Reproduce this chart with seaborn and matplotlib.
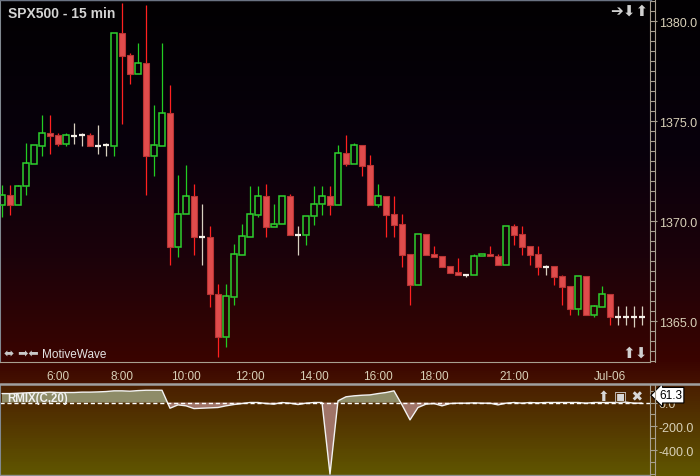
import numpy as np
import seaborn as sns
import matplotlib.pyplot as plt
from matplotlib.colors import LinearSegmentedColormap
from matplotlib.lines import Line2D

# ----------------------------------------
# DATA
# ----------------------------------------

opens = [1370.8, 1371.3, 1370.8, 1371.75, 1372.85, 1373.75, 1374.4, 1374.3, 1373.85, 1374.25,
         1374.3, 1374.3, 1373.75, 1373.8, 1373.75, 1379.4, 1378.3, 1377.35, 1377.9, 1373.25,
         1373.75, 1375.4, 1368.7, 1370.35, 1371.25, 1369.2, 1369.2, 1366.35, 1364.2, 1366.2,
         1368.3, 1369.2, 1370.3, 1371.25, 1369.7, 1369.85, 1371.25, 1369.3, 1369.3, 1370.25,
         1370.85, 1371.25, 1370.8, 1373.4, 1372.85, 1373.8, 1372.8, 1370.8, 1371.25, 1370.35,
         1369.85, 1368.35, 1366.8, 1369.35, 1368.35, 1368.25, 1367.75, 1367.45, 1367.3, 1367.3,
         1368.25, 1368.35, 1368.25, 1367.8, 1369.75, 1369.35, 1368.75, 1368.35, 1367.7, 1367.75,
         1367.25, 1366.75, 1365.6, 1367.25, 1365.3, 1365.7, 1366.35, 1365.2, 1365.2, 1365.2,
         1365.2]
highs = [1371.8, 1371.8, 1371.8, 1373.9, 1373.8, 1375.3, 1375.3, 1374.4, 1374.4, 1374.9,
         1374.4, 1374.4, 1374.8, 1373.9, 1379.4, 1380.9, 1378.4, 1378.9, 1380.8, 1375.8,
         1378.9, 1376.8, 1372.3, 1372.8, 1371.85, 1370.85, 1369.75, 1366.85, 1366.85, 1368.85,
         1369.85, 1371.75, 1371.75, 1371.85, 1370.85, 1371.25, 1371.35, 1369.75, 1370.25, 1371.75,
         1371.75, 1371.75, 1373.8, 1374.3, 1373.9, 1373.8, 1373.3, 1371.85, 1371.25, 1371.25,
         1370.35, 1368.35, 1369.35, 1369.35, 1368.75, 1368.25, 1367.75, 1368.15, 1367.3, 1368.35,
         1368.35, 1368.75, 1368.35, 1369.75, 1369.85, 1369.75, 1368.75, 1368.75, 1367.8, 1367.75,
         1367.3, 1366.75, 1367.25, 1367.25, 1365.8, 1366.75, 1366.35, 1365.75, 1365.75, 1365.75,
         1365.75]
lows = [1370.2, 1370.3, 1370.8, 1371.3, 1372.85, 1373.25, 1373.35, 1373.75, 1373.75, 1373.85,
        1373.75, 1373.75, 1373.35, 1373.25, 1373.25, 1374.85, 1376.85, 1377.35, 1371.3, 1372.25,
        1373.75, 1367.8, 1368.2, 1370.35, 1368.3, 1367.8, 1365.7, 1363.2, 1363.7, 1365.8,
        1368.3, 1369.2, 1370.2, 1369.2, 1369.7, 1369.85, 1369.3, 1368.3, 1368.8, 1369.8,
        1370.3, 1370.3, 1370.8, 1372.75, 1372.85, 1372.25, 1370.8, 1370.7, 1369.2, 1369.2,
        1367.7, 1365.8, 1366.8, 1368.3, 1368.2, 1367.7, 1367.4, 1367.3, 1367.2, 1367.3,
        1368.25, 1368.25, 1367.8, 1367.8, 1368.8, 1368.3, 1367.8, 1367.3, 1367.3, 1366.8,
        1365.8, 1365.3, 1365.3, 1365.3, 1365.2, 1365.7, 1364.8, 1364.8, 1364.8, 1364.7,
        1364.8]
closes = [1371.3, 1370.8, 1371.75, 1372.9, 1373.8, 1374.4, 1374.25, 1373.85, 1374.3, 1374.25,
          1374.3, 1373.75, 1373.75, 1373.8, 1379.4, 1378.25, 1377.35, 1377.9, 1373.25, 1373.8,
          1375.4, 1368.7, 1370.35, 1371.25, 1369.2, 1369.2, 1366.35, 1364.2, 1366.25, 1368.35,
          1369.25, 1370.35, 1371.25, 1369.7, 1369.85, 1371.25, 1369.3, 1369.3, 1370.25, 1370.85,
          1371.25, 1370.8, 1373.4, 1372.85, 1373.8, 1372.75, 1370.8, 1371.25, 1370.3, 1369.8,
          1368.3, 1366.8, 1369.35, 1368.3, 1368.2, 1367.7, 1367.4, 1367.3, 1367.3, 1368.25,
          1368.35, 1368.25, 1367.8, 1369.75, 1369.3, 1368.7, 1368.3, 1367.7, 1367.7, 1367.2,
          1366.7, 1365.6, 1367.25, 1365.3, 1365.75, 1366.35, 1365.2, 1365.2, 1365.2, 1365.2,
          1365.2]

rmix = [75, 75, 78, 81, 84, 84, 87, 84, 84, 84,
        87, 87, 89, 92, 98, 98, 95, 100, 103, 103,
        103, -48, -20, -28, -51, -48, -45, -42, -28, -17,
        -9, 0, 0, -9, -14, 0, -6, -17, -6, 0,
        0, -602, 14, 48, 56, 61, 64, 75, 84, 98,
        -20, -146, -42, -14, -9, -28, -9, -6, -6, -3,
        -6, -6, -20, -6, 0, -6, 0, -3, 0, 0,
        0, 0, 0, -6, 0, 0, 0, 0, 3, -6,
        -6]
rmix_last = 61.3

time_ticks = [7, 15, 23, 31, 39, 47, 54, 64, 76]
time_labels = ["6:00", "8:00", "10:00", "12:00", "14:00", "16:00", "18:00", "21:00", "Jul-06"]
price_ticks = [1365.0, 1370.0, 1375.0, 1380.0]
rmix_ticks = [0.0, -200.0, -400.0]

# ----------------------------------------
# STYLE
# ----------------------------------------

sns.set_style("dark")
plt.rcParams["font.family"] = ["Liberation Sans", "DejaVu Sans"]

W, H = 700, 477
AXIS_C = "#a8a090"
LABEL_C = "#d8d0b8"

fig = plt.figure(figsize=(W / 100, H / 100), dpi=100)


def px(x, y):
    # pixel coords (top-left origin) -> figure fraction
    return x / W, 1 - y / H


# background gradient over the whole window
bg_cmap = LinearSegmentedColormap.from_list("bg", [
    (0.0, "#020002"),
    (150 / H, "#08000c"),
    (260 / H, "#1c020a"),
    (363 / H, "#3a0400"),
    (385 / H, "#451200"),
    (386 / H, "#4a1e00"),
    (1.0, "#605600"),
])
ax_bg = fig.add_axes([0, 0, 1, 1], zorder=-10)
ax_bg.imshow(np.linspace(0, 1, H).reshape(-1, 1), aspect="auto", cmap=bg_cmap,
             extent=[0, 1, 0, 1], origin="upper", vmin=0, vmax=1)
ax_bg.axis("off")

# ----------------------------------------
# PRICE PANEL
# ----------------------------------------

o = np.array(opens)
h = np.array(highs)
l = np.array(lows)
c = np.array(closes)
x = np.arange(len(o))
up = c > o
dn = c < o
dj = c == o

ax = fig.add_axes([0, 1 - 363 / H, 650 / W, 363 / H])
ax.set_facecolor("none")

wick_col = np.where(up, "#22cc22", np.where(dn, "#ff2020", "#d8d0c0"))
top = np.maximum(o, c)
bot = np.minimum(o, c)
ax.vlines(x, top, h, colors=wick_col, lw=0.9, zorder=2)
ax.vlines(x, l, bot, colors=wick_col, lw=0.9, zorder=2)

ax.bar(x[up], (c - o)[up], bottom=o[up], width=0.78, fill=False,
       edgecolor="#2ed02e", linewidth=1.1, zorder=3)
ax.bar(x[dn], (o - c)[dn], bottom=c[dn], width=0.78, facecolor="#e04c4c",
       edgecolor="#b83434", linewidth=0.8, zorder=3)
ax.hlines(o[dj], x[dj] - 0.4, x[dj] + 0.4, colors="#f4f0e8", lw=1.6, zorder=3)

ax.set_xlim(-0.25, 81)
ax.set_ylim(1362.975, 1381.125)
ax.grid(False)

ax.set_xticks(time_ticks)
ax.set_xticklabels(time_labels)
ax.yaxis.tick_right()
ax.set_yticks(price_ticks)
ax.set_yticklabels([f"{p:.1f}" for p in price_ticks])
ax.set_yticks(np.arange(1363.0, 1381.1, 0.5), minor=True)
ax.tick_params(axis="x", direction="out", length=3.6, width=0.8, color=AXIS_C,
               labelcolor=LABEL_C, labelsize=8.5, pad=2.5)
ax.tick_params(axis="y", which="major", direction="out", length=5, width=0.8,
               color=AXIS_C, labelcolor=LABEL_C, labelsize=9, pad=1.2)
ax.tick_params(axis="y", which="minor", direction="out", length=3.6, width=0.8,
               color=AXIS_C)
for side in ["left", "top", "right", "bottom"]:
    ax.spines[side].set_visible(True)
ax.spines["left"].set_color("#808890")
ax.spines["left"].set_linewidth(1.5)
ax.spines["top"].set_color("#6a7282")
ax.spines["top"].set_linewidth(2.5)
ax.spines["right"].set_color(AXIS_C)
ax.spines["right"].set_linewidth(0.8)
ax.spines["bottom"].set_color(AXIS_C)
ax.spines["bottom"].set_linewidth(0.8)

# second vertical rule of the price scale
fig.add_artist(Line2D([655 / W, 655 / W], [1 - 363 / H, 1], color=AXIS_C, lw=0.8))

fig.text(*px(7.5, 18.5), "SPX500 - 15 min", color="#d4d4d4", fontsize=10,
         fontweight="bold", va="baseline", ha="left")
fig.text(*px(4, 354), "⬌ ➡⬅", color="#c8c8c8", fontsize=8.8, va="center", ha="left",
         family=["DejaVu Sans"])
fig.text(*px(42, 358), "MotiveWave", color="#e4e4e4", fontsize=8.5, va="baseline", ha="left")
fig.text(*px(648, 11), "➔⬇⬆", color="#d0d0d0", fontsize=11, va="center", ha="right",
         family=["DejaVu Sans"])
fig.text(*px(648, 353), "⬆⬇", color="#d0d0d0", fontsize=11, va="center", ha="right",
         family=["DejaVu Sans"])

# separator between time axis and indicator
fig.add_artist(Line2D([0, 1], [1 - 385 / H] * 2, color="#a0a0a0", lw=1.8))

# ----------------------------------------
# RMIX PANEL
# ----------------------------------------

r = np.array(rmix, dtype=float)
ax2 = fig.add_axes([0, 1 / H, 650 / W, 90 / H])
ax2.set_facecolor("none")
ax2.fill_between(x, r, 0, where=r >= 0, interpolate=True, color="#8e8c68", lw=0)
ax2.fill_between(x, r, 0, where=r <= 0, interpolate=True, color="#a07468", lw=0)
sns.lineplot(x=x, y=r, ax=ax2, color="#f2f2f2", lw=1.0)
ax2.axhline(0, color="white", lw=1.0, ls=(0, (3, 2)))

ax2.set_xlim(-0.25, 81)
ax2.set_ylim(-609, 147)
ax2.grid(False)
ax2.set_xticks([])
ax2.yaxis.tick_right()
ax2.set_yticks(rmix_ticks)
ax2.set_yticklabels([f"{v:.1f}" for v in rmix_ticks])
ax2.set_yticks(np.arange(-600, 101, 100), minor=True)
ax2.tick_params(axis="y", which="major", direction="out", length=5, width=0.8,
                color=AXIS_C, labelcolor=LABEL_C, labelsize=9, pad=1.2)
ax2.tick_params(axis="y", which="minor", direction="out", length=3.6, width=0.8,
                color=AXIS_C)
ax2.set_ylabel("")
for side in ["left", "top", "right", "bottom"]:
    ax2.spines[side].set_visible(True)
ax2.spines["top"].set_visible(False)
ax2.spines["left"].set_color("#808890")
ax2.spines["left"].set_linewidth(1.5)
ax2.spines["right"].set_color(AXIS_C)
ax2.spines["right"].set_linewidth(0.8)
ax2.spines["bottom"].set_color("#909090")
ax2.spines["bottom"].set_linewidth(1.0)

fig.add_artist(Line2D([655 / W, 655 / W], [1 / H, 1 - 386 / H], color=AXIS_C, lw=0.8))

fig.text(*px(7, 399), "RMIX(C,20)", color="#f0f0f0", fontsize=8.3, fontweight="bold",
         va="center", ha="left")
fig.text(*px(643, 397), "⬆ ▣ ✖", color="#d8d8d8", fontsize=10, va="center", ha="right",
         family=["DejaVu Sans"])

# value tag sits over the 0.0 label, as in the platform
ax2.text(1.014, rmix_last, f"{rmix_last:.1f}", transform=ax2.get_yaxis_transform(),
         color="black", fontsize=8.5, va="center", ha="left", clip_on=False, zorder=10,
         bbox=dict(boxstyle="larrow,pad=0.15", fc="white", ec="black", lw=0.8))

plt.savefig("out.png", dpi=100)
